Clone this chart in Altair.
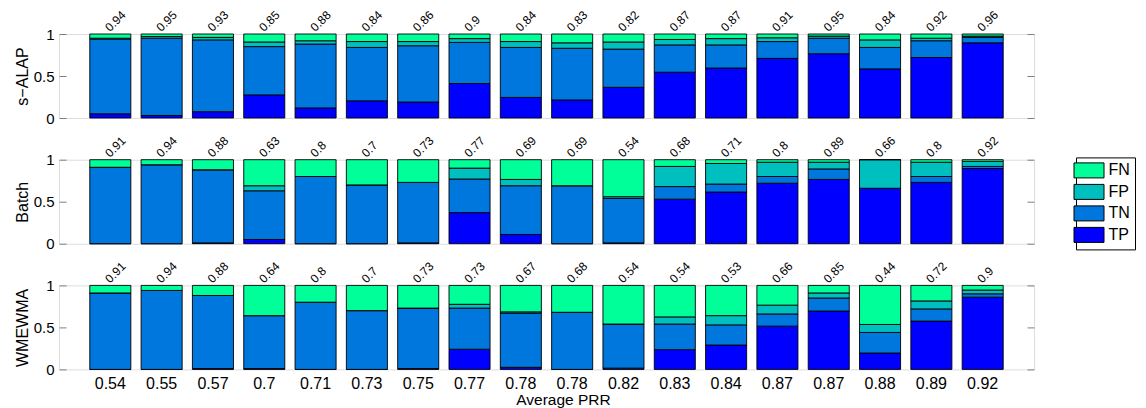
import altair as alt
import pandas as pd

FONT = "Liberation Sans"

prr_labels = ['0.54', '0.55', '0.57', '0.7', '0.71', '0.73', '0.75', '0.77', '0.78',
              '0.78', '0.82', '0.83', '0.84', '0.87', '0.87', '0.88', '0.89', '0.92']

classes = ['TP', 'TN', 'FP', 'FN']
legend_order = ['FN', 'FP', 'TN', 'TP']
class_colors = ['#00FF99', '#00BFBF', '#0077DD', '#0000FF']

# s-ALAP
sa_tp = [0.05, 0.03, 0.075, 0.275, 0.12, 0.205, 0.19, 0.41, 0.245, 0.215, 0.365, 0.545, 0.595, 0.71, 0.765, 0.585, 0.72, 0.895]
sa_tn = [0.89, 0.92, 0.855, 0.575, 0.76, 0.635, 0.67, 0.49, 0.595, 0.615, 0.455, 0.325, 0.275, 0.2, 0.185, 0.255, 0.2, 0.065]
sa_fp = [0.01, 0.02, 0.03, 0.055, 0.04, 0.07, 0.05, 0.045, 0.07, 0.065, 0.085, 0.065, 0.075, 0.045, 0.025, 0.09, 0.03, 0.015]
sa_fn = [0.05, 0.03, 0.04, 0.095, 0.08, 0.09, 0.09, 0.055, 0.09, 0.105, 0.095, 0.065, 0.055, 0.045, 0.025, 0.07, 0.05, 0.025]
sa_acc = [0.94, 0.95, 0.93, 0.85, 0.88, 0.84, 0.86, 0.9, 0.84, 0.83, 0.82, 0.87, 0.87, 0.91, 0.95, 0.84, 0.92, 0.96]

# Batch
ba_tp = [0, 0, 0.01, 0.05, 0, 0, 0.01, 0.37, 0.11, 0, 0.01, 0.53, 0.615, 0.72, 0.765, 0.66, 0.73, 0.895]
ba_tn = [0.91, 0.94, 0.87, 0.58, 0.8, 0.7, 0.72, 0.40, 0.58, 0.69, 0.53, 0.15, 0.095, 0.08, 0.125, 0.0, 0.07, 0.025]
ba_fp = [0, 0, 0, 0.06, 0, 0, 0, 0.13, 0.075, 0, 0.02, 0.24, 0.245, 0.17, 0.08, 0.34, 0.17, 0.06]
ba_fn = [0.09, 0.06, 0.12, 0.31, 0.2, 0.3, 0.27, 0.1, 0.235, 0.31, 0.44, 0.08, 0.045, 0.03, 0.03, 0.0, 0.03, 0.02]
ba_acc = [0.91, 0.94, 0.88, 0.63, 0.8, 0.7, 0.73, 0.77, 0.69, 0.69, 0.54, 0.68, 0.71, 0.8, 0.89, 0.66, 0.8, 0.92]

# WMEWMA
wm_tp = [0, 0, 0.01, 0.01, 0, 0, 0.01, 0.24, 0.025, 0, 0.015, 0.235, 0.29, 0.515, 0.695, 0.195, 0.575, 0.86]
wm_tn = [0.91, 0.94, 0.87, 0.63, 0.8, 0.7, 0.72, 0.49, 0.645, 0.68, 0.525, 0.305, 0.24, 0.145, 0.155, 0.245, 0.145, 0.04]
wm_fp = [0, 0, 0, 0, 0, 0, 0, 0.045, 0.015, 0, 0, 0.085, 0.11, 0.105, 0.06, 0.095, 0.095, 0.045]
wm_fn = [0.09, 0.06, 0.12, 0.36, 0.2, 0.3, 0.27, 0.225, 0.315, 0.32, 0.46, 0.375, 0.36, 0.235, 0.09, 0.465, 0.185, 0.055]
wm_acc = [0.91, 0.94, 0.88, 0.64, 0.8, 0.7, 0.73, 0.73, 0.67, 0.68, 0.54, 0.54, 0.53, 0.66, 0.85, 0.44, 0.72, 0.9]

W, H = 975, 84
label_expr = "[" + ",".join("'%s'" % s for s in prr_labels) + "][datum.value]"


def panel(title, tp, tn, fp, fn, acc, bottom):
    rows = []
    for i in range(len(prr_labels)):
        for k, (c, v) in enumerate(zip(classes, [tp[i], tn[i], fp[i], fn[i]])):
            rows.append({'idx': i, 'cls': c, 'val': v, 'ord': k})
    df = pd.DataFrame(rows)
    lab = pd.DataFrame({'idx': list(range(len(acc))), 'txt': ['%g' % a for a in acc]})

    if bottom:
        xaxis = alt.Axis(labelExpr=label_expr, labelAngle=0, ticks=False, domain=False,
                         labelFontSize=16, labelFont=FONT, labelColor='black', labelPadding=6,
                         title='Average PRR', titleFont=FONT, titleFontSize=15.5, titleFontWeight='normal',
                         titleColor='black', titleX=504, titleY=35, titleBaseline='alphabetic',
                         titleAlign='center', grid=False)
    else:
        xaxis = None

    x = alt.X('idx:O', scale=alt.Scale(paddingInner=0.2, paddingOuter=0.6), axis=xaxis)

    bars = alt.Chart(df).mark_bar(stroke='black', strokeWidth=0.9).encode(
        x=x,
        y=alt.Y('val:Q', stack='zero', scale=alt.Scale(domain=[0, 1], nice=False),
                axis=alt.Axis(values=[0, 0.5, 1], format='~g', ticks=False, domain=False,
                              labelFontSize=15, labelFont=FONT, labelColor='black', labelPadding=5,
                              grid=True, gridColor='#808080', gridDash=[7, 961], gridWidth=1,
                              title=title, titleFont=FONT, titleFontSize=16, titleFontWeight='normal',
                              titleColor='black', titleX=-31.3, titleBaseline='alphabetic', titleAngle=270)),
        color=alt.Color('cls:N', scale=alt.Scale(domain=legend_order, range=class_colors),
                        legend=alt.Legend(title=None, orient='none', legendX=1017, legendY=123.4,
                                          symbolType='M-2,-1H2V1H-2Z', symbolSize=225,
                                          symbolStrokeColor='black', symbolStrokeWidth=1,
                                          symbolOpacity=1, labelFont=FONT, labelFontSize=16,
                                          labelColor='black', labelOffset=11.5, rowPadding=1.5,
                                          strokeColor='black', padding=5, fillColor='white')),
        order=alt.Order('ord:Q', sort='ascending'),
    )
    text = alt.Chart(lab).mark_text(angle=315, align='left', baseline='alphabetic', dx=1, dy=-1.5,
                                    fontSize=12, font=FONT, color='black').encode(
        x=alt.X('idx:O', scale=alt.Scale(paddingInner=0.2, paddingOuter=0.6), axis=xaxis),
        y=alt.datum(1),
        text='txt:N',
    )
    return alt.layer(bars, text).properties(width=W, height=H)


chart = alt.vconcat(
    panel('s\u2212ALAP', sa_tp, sa_tn, sa_fp, sa_fn, sa_acc, False),
    panel('Batch', ba_tp, ba_tn, ba_fp, ba_fn, ba_acc, False),
    panel('WMEWMA', wm_tp, wm_tn, wm_fp, wm_fn, wm_acc, True),
    spacing=41.7, bounds='flush',
).properties(
    padding={'left': 6, 'top': 0, 'right': 0, 'bottom': 0}
).configure_view(
    stroke='black', strokeWidth=1
).configure(
    background='white'
)

chart.save("out.html", embed_options={"renderer": "svg", "actions": False})
